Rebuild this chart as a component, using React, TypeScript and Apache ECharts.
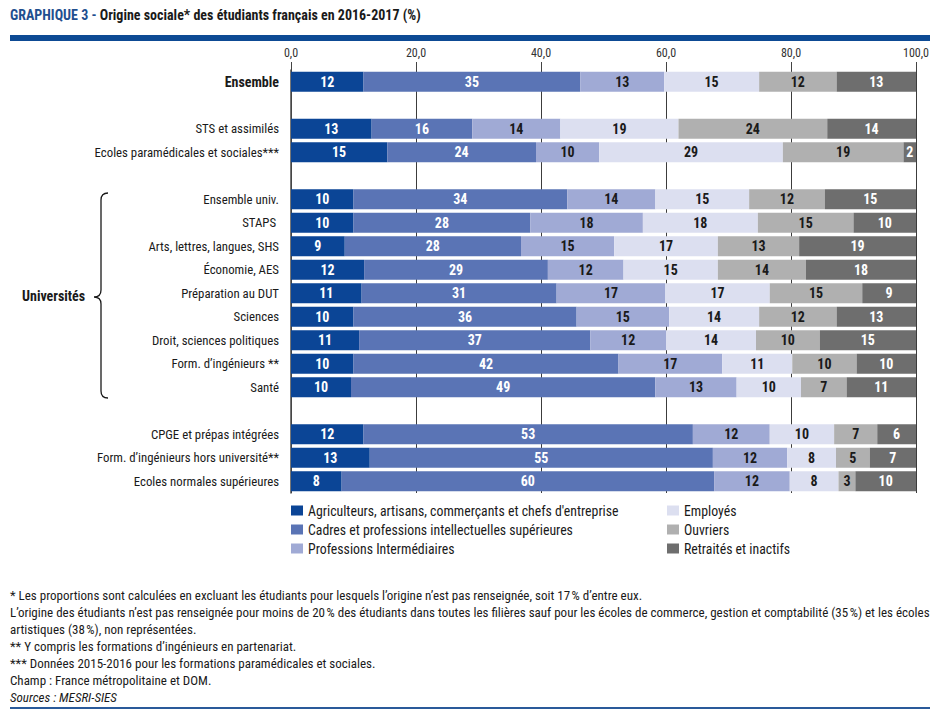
import React, { useEffect, useRef } from "react";
import * as echarts from "echarts";

const FONT = '"Roboto Condensed", "DejaVu Sans Condensed", sans-serif';

const categories = [
  "Ensemble",
  "STS et assimilés",
  "Ecoles paramédicales et sociales***",
  "Ensemble univ.",
  "STAPS ",
  "Arts, lettres, langues, SHS",
  "Économie, AES",
  "Préparation au DUT",
  "Sciences",
  "Droit, sciences politiques",
  "Form. d’ingénieurs **",
  "Santé",
  "CPGE et prépas intégrées",
  "Form. d’ingénieurs hors université**",
  "Ecoles normales supérieures",
];

// Blank rows separate the groups after these category indices
const gapAfter = [0, 2, 11];

const seriesNames = [
  "Agriculteurs, artisans, commerçants et chefs d'entreprise",
  "Cadres et professions intellectuelles supérieures",
  "Professions Intermédiaires",
  "Employés",
  "Ouvriers",
  "Retraités et inactifs",
];

const agriculteurs = [11.6, 12.9, 15.4, 10.0, 10.0, 8.6, 11.7, 11.3, 10.0, 10.9, 10.0, 9.6, 11.6, 12.6, 8.1];
const cadres = [34.7, 16.1, 23.8, 34.2, 28.3, 28.2, 29.4, 31.2, 35.7, 37.0, 42.4, 48.7, 52.7, 54.9, 59.6];
const profInter = [13.4, 14.1, 10.1, 14.1, 18.0, 14.9, 12.1, 17.4, 14.8, 12.1, 16.6, 13.0, 12.3, 11.9, 12.1];
const employes = [15.2, 18.9, 29.4, 15.0, 18.4, 16.6, 15.1, 16.7, 14.4, 14.4, 11.2, 10.3, 10.3, 7.8, 7.8];
const ouvriers = [12.4, 23.8, 19.3, 12.1, 15.3, 13.0, 14.1, 14.8, 12.4, 10.2, 10.3, 7.3, 6.9, 5.4, 2.7];
const retraites = [12.7, 14.2, 2.0, 14.6, 10.0, 18.7, 17.6, 8.6, 12.7, 15.4, 9.5, 11.1, 6.2, 7.4, 9.7];

const xTicks = [0, 20, 40, 60, 80, 100];

const seriesColors = ["#0b4596", "#5a74b5", "#a0aad5", "#dcdff0", "#b0b0b0", "#6e6e6e"];
const labelColors = ["#ffffff", "#ffffff", "#1a1a1a", "#1a1a1a", "#1a1a1a", "#ffffff"];

const footnotes = [
  "* Les proportions sont calculées en excluant les étudiants pour lesquels l’origine n’est pas renseignée, soit 17\u202f% d’entre eux.",
  "L’origine des étudiants n’est pas renseignée pour moins de 20\u202f% des étudiants dans toutes les filières sauf pour les écoles de commerce, gestion et comptabilité (35\u202f%) et les écoles",
  "artistiques (38\u202f%), non représentées.",
  "** Y compris les formations d’ingénieurs en partenariat.",
  "*** Données 2015-2016 pour les formations paramédicales et sociales.",
  "Champ : France métropolitaine et DOM.",
];
const sourceText = "Sources : MESRI-SIES";

const BRACE_PATH =
  "M 14 0 Q 7 0 7 7 L 7 97 Q 7 104 0 104 Q 7 104 7 111 L 7 198 Q 7 205 14 205";

let braceRegistered = false;

export default function App() {
  const ref = useRef<HTMLDivElement>(null);

  useEffect(() => {
    if (!ref.current) return;
    if (!braceRegistered) {
      echarts.graphic.registerShape("brace", echarts.graphic.extendPath(BRACE_PATH, {}));
      braceRegistered = true;
    }
    const chart = echarts.init(ref.current, null, { renderer: "svg" });

    const seriesValues = [agriculteurs, cadres, profInter, employes, ouvriers, retraites];
    const rowNames: string[] = [];
    const rowData: (number | null)[][] = seriesValues.map(() => []);
    const spacerNames = new Set<string>();
    let spacer = 0;
    categories.forEach((c, i) => {
      rowNames.push(c);
      seriesValues.forEach((vals, s) => rowData[s].push(vals[i]));
      if (gapAfter.includes(i)) {
        spacer += 1;
        const name = "__gap" + spacer;
        spacerNames.add(name);
        rowNames.push(name);
        seriesValues.forEach((_, s) => rowData[s].push(null));
      }
    });

    const series = seriesNames.map((name, s) => ({
      name,
      type: "bar",
      stack: "total",
      barWidth: 20,
      data: rowData[s],
      itemStyle: { color: seriesColors[s] },
      label: {
        show: true,
        position: "inside",
        color: labelColors[s],
        fontFamily: FONT,
        fontWeight: "bold",
        fontSize: 14,
        formatter: (p: any) => (p.value == null || isNaN(p.value) ? "" : String(Math.round(p.value))),
      },
    }));

    const footGraphics = footnotes.map((t, i) => ({
      type: "text",
      left: 10,
      top: 589 + i * 17,
      style: { text: t, fill: "#1a1a1a", font: `13px ${FONT}` },
    }));

    chart.setOption({
      animation: false,
      backgroundColor: "#ffffff",
      grid: { left: 291, width: 625, top: 70, height: 423 },
      xAxis: {
        type: "value",
        position: "top",
        min: xTicks[0],
        max: xTicks[xTicks.length - 1],
        interval: xTicks[1] - xTicks[0],
        axisLine: { show: false },
        axisTick: { show: true, length: 8, lineStyle: { color: "#444", width: 1 } },
        axisLabel: {
          margin: 11,
          color: "#333",
          fontFamily: FONT,
          fontSize: 12,
          formatter: (v: number) => v.toFixed(1).replace(".", ","),
        },
        splitLine: { show: true, lineStyle: { color: "#3c3c3c", width: 1 } },
      },
      yAxis: {
        type: "category",
        inverse: true,
        data: rowNames,
        axisTick: { show: false },
        axisLine: { show: true, lineStyle: { color: "#4a4a4a", width: 1.5 } },
        axisLabel: {
          margin: 12,
          color: "#1a1a1a",
          fontFamily: FONT,
          fontSize: 12.8,
          interval: (_: number, v: string) => !spacerNames.has(v),
          formatter: (v: string) => (v === "Ensemble" ? `{b|${v}}` : v),
          rich: { b: { fontWeight: "bold", fontFamily: FONT, fontSize: 14, color: "#1a1a1a" } },
        },
      },
      legend: [
        {
          data: seriesNames.slice(0, 3),
          orient: "vertical",
          left: 291,
          top: 503,
          icon: "rect",
          itemWidth: 12,
          itemHeight: 10,
          itemGap: 4,
          padding: 0,
          textStyle: { fontFamily: FONT, fontSize: 13.8, color: "#1a1a1a", lineHeight: 15 },
        },
        {
          data: seriesNames.slice(3),
          orient: "vertical",
          left: 667,
          top: 503,
          icon: "rect",
          itemWidth: 12,
          itemHeight: 10,
          itemGap: 4,
          padding: 0,
          textStyle: { fontFamily: FONT, fontSize: 13.8, color: "#1a1a1a", lineHeight: 15 },
        },
      ],
      graphic: [
        {
          type: "text",
          left: 10,
          top: 8,
          style: {
            text: "{a|GRAPHIQUE 3 - }{b|Origine sociale* des étudiants français en 2016-2017 (%)}",
            rich: {
              a: { fontFamily: FONT, fontWeight: "bold", fontSize: 14, fill: "#1f4f8f" },
              b: { fontFamily: FONT, fontWeight: "bold", fontSize: 14, fill: "#1a1a1a" },
            },
          },
        },
        { type: "rect", left: 10, top: 35, shape: { width: 920, height: 6 }, style: { fill: "#0d4a94" } },
        {
          type: "text",
          left: 22,
          top: 289,
          style: { text: "Universités", fill: "#1a1a1a", font: `bold 14px ${FONT}` },
        },
        {
          type: "brace",
          x: 94,
          y: 193,
          style: { stroke: "#1a1a1a", fill: "none", lineWidth: 1.3 },
        },
        ...footGraphics,
        {
          type: "text",
          left: 10,
          top: 691,
          style: { text: sourceText, fill: "#1a1a1a", font: `italic 13px ${FONT}` },
        },
        { type: "rect", left: 10, top: 707, shape: { width: 920, height: 2 }, style: { fill: "#2a5a9a" } },
      ],
      series,
    });

    return () => chart.dispose();
  }, []);

  return (
    <div
      ref={ref}
      style={{ position: "fixed", left: 0, top: 0, width: 944, height: 719, background: "#fff" }}
    />
  );
}
